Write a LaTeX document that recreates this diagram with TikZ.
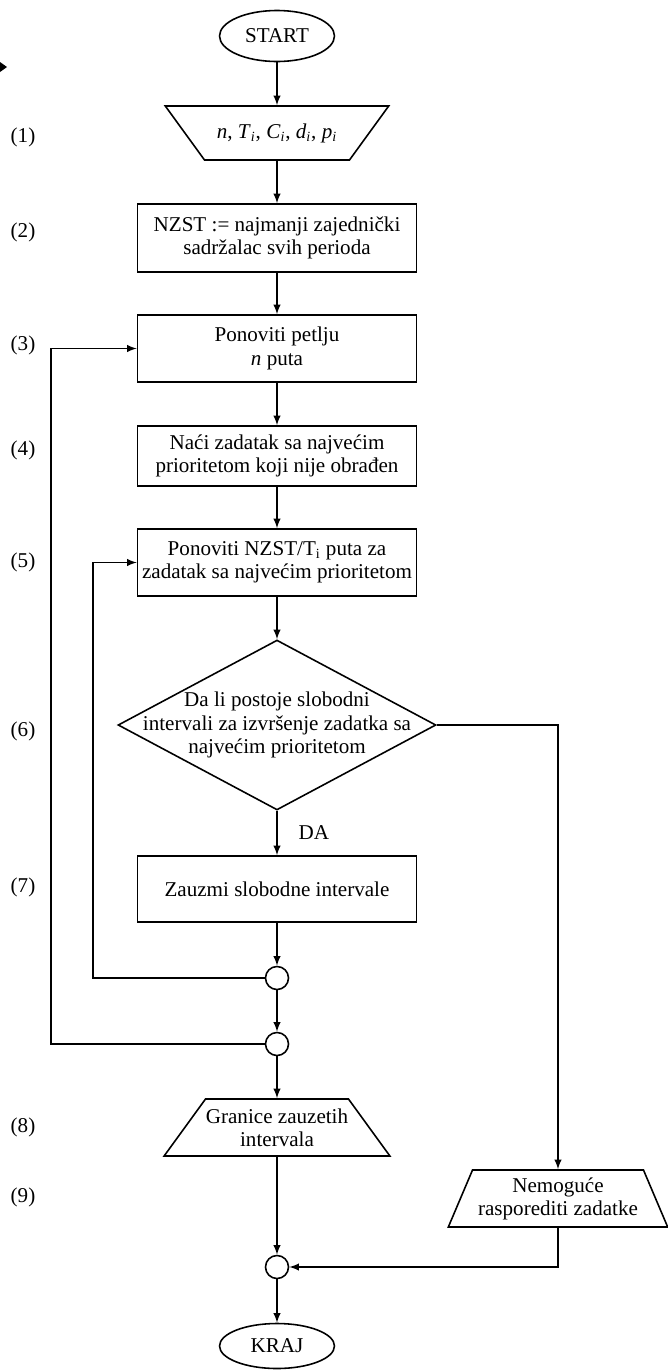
\documentclass[tikz,border=0pt]{standalone}
\usepackage{fontspec}
\setmainfont{Liberation Serif}
\usetikzlibrary{arrows}
\usetikzlibrary{shapes.geometric}

\tikzset{
    blok/.style = {draw, rectangle, minimum width=5.58cm, align=center, inner xsep=0.05cm},
    oval/.style = {draw, ellipse, minimum width=2.3cm, minimum height=1.02cm, inner sep=0},
    ulazni/.style = {draw, trapezium, shape border rotate=180,
        trapezium left angle=54, trapezium right angle=54,
        inner xsep=1.45cm, inner ysep=0.54cm},
    izlazni/.style = {draw, trapezium,
        trapezium left angle=54, trapezium right angle=54,
        inner xsep=1.43cm, inner ysep=0.57cm},
    odluka/.style = {draw, diamond, minimum width=6.36cm, minimum height=3.4cm, inner sep=0},
    spoj/.style = {draw, circle, minimum size=0.46cm, inner sep=0}
}

\begin{document}
\begin{tikzpicture}[x=0.02cm, y=-0.02cm, >=latex, line width=0.9pt,
    every node/.style={font=\fontsize{12}{13.2}\selectfont}]
    \useasboundingbox (0,0) rectangle (667,1370);

    % glavni tok
    \node [oval] (start) at (277,36) {START};
    \node [ulazni, label={center:{\textit{n}, \textit{T}\textsubscript{\textit{i}}, \textit{C}\textsubscript{\textit{i}}, \textit{d}\textsubscript{\textit{i}}, \textit{p}\textsubscript{\textit{i}}}}] (ulaz) at (277,133) {};
    \node [blok, minimum height=1.36cm] (nzst) at (277,238) {NZST := najmanji zajednički\\sadržalac svih perioda};
    \node [blok, minimum height=1.34cm] (petlja) at (277,348.5) {Ponoviti petlju\\\textit{n} puta};
    \node [blok, minimum height=1.2cm] (najveci) at (277,456) {Naći zadatak sa najvećim\\prioritetom koji nije obrađen};
    \node [blok, minimum height=1.34cm] (ponovi) at (277,562.5) {Ponoviti NZST/T\textsubscript{i} puta za\\zadatak sa najvećim prioritetom};
    \node [odluka, label={[align=center]center:{Da li postoje slobodni\\intervali za izvršenje zadatka sa\\najvećim prioritetom}}] (pitanje) at (277,725) {};
    \node [blok, minimum height=1.32cm] (zauzmi) at (277,889) {Zauzmi slobodne intervale};
    \node [spoj] (k1) at (277,978) {};
    \node [spoj] (k2) at (277,1044) {};
    \node [izlazni, label={[align=center]center:{Granice zauzetih\\intervala}}] (granice) at (277,1127.5) {};
    \node [izlazni, trapezium left angle=67, trapezium right angle=67, inner xsep=1.71cm,
        label={[align=center]center:{Nemoguće\\rasporediti zadatke}}] (nemoguce) at (558,1198.5) {};
    \node [spoj] (k3) at (277,1267) {};
    \node [oval, minimum height=0.9cm] (kraj) at (277,1346) {KRAJ};

    % oznake koraka
    \node (korak1) at (23,137) {(1)};
    \node (korak2) at (23,232) {(2)};
    \node (korak3) at (23,345) {(3)};
    \node (korak4) at (23,450) {(4)};
    \node (korak5) at (23,562) {(5)};
    \node (korak6) at (23,731) {(6)};
    \node (korak7) at (23,887) {(7)};
    \node (korak8) at (23,1127) {(8)};
    \node (korak9) at (23,1197) {(9)};

    \draw [->] (start) -- (ulaz);
    \draw [->] (ulaz) -- (nzst);
    \draw [->] (nzst) -- (petlja);
    \draw [->] (petlja) -- (najveci);
    \draw [->] (najveci) -- (ponovi);
    \draw [->] (ponovi) -- (pitanje);
    \draw [->] (pitanje) -- node [right=0.3cm] (da) {DA} (zauzmi);
    \draw [->] (zauzmi) -- (k1);
    \draw [->] (k1) -- (k2);
    \draw [->] (k2) -- (granice);
    \draw [->] (granice) -- (k3);
    \draw [->] (k3) -- (kraj);

    % povratne grane
    \coordinate (unutra) at (93,770);
    \coordinate (spolja) at (51,700);
    \draw [->] (k1) -| (unutra) |- (ponovi);
    \draw [->] (k2) -| (spolja) |- (petlja);

    % grana NE
    \draw [->] (pitanje) -| (nemoguce);
    \draw [->] (nemoguce) |- (k3);

    % ostatak strelice na rubu
    \fill (0,62) -- (7,67) -- (0,72) -- cycle;
\end{tikzpicture}
\end{document}
